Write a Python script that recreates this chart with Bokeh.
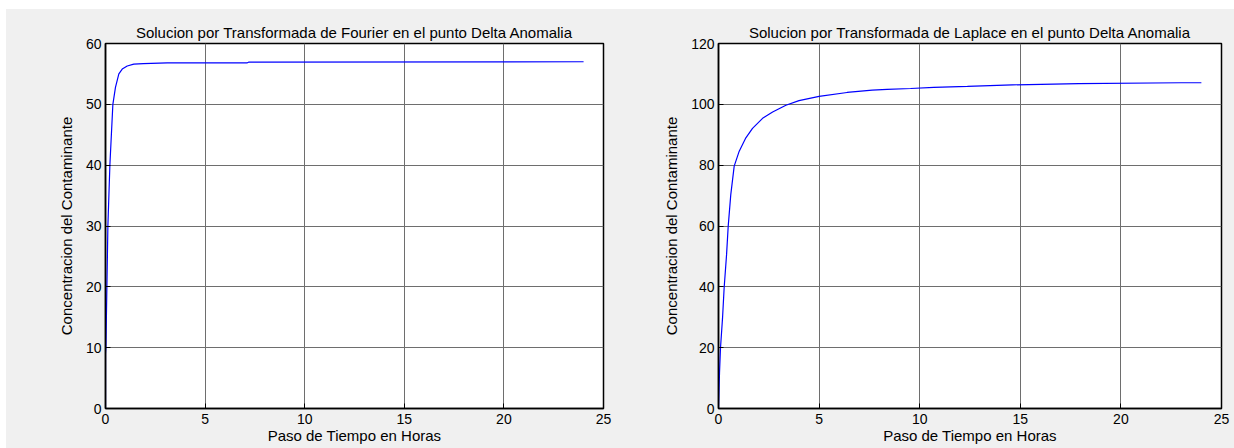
from bokeh.plotting import figure
from bokeh.layouts import row
from bokeh.models import Range1d, FixedTicker
from bokeh.embed import file_html
from bokeh.resources import INLINE

# Data
t_fourier = [0, 0, 0.02, 0.07, 0.12, 0.22, 0.37, 0.5, 0.67, 0.84, 1.09, 1.42, 1.9, 3.1, 7.1, 7.2, 24.0]
c_fourier = [0, 9, 10, 20, 30, 40, 50, 52.8, 55.0, 55.8, 56.3, 56.6, 56.7, 56.8, 56.8, 56.95, 57.0]

t_laplace = [0, 0.05, 0.1, 0.2, 0.28, 0.4, 0.48, 0.61, 0.78, 1.03, 1.36, 1.69, 2.19, 2.69,
             3.35, 4.0, 5.0, 6.39, 7.64, 8.38, 9.55, 10.7, 12.37, 14.6, 17.9, 23.0, 24.0]
c_laplace = [0, 11.7, 20, 29.7, 39.6, 50.5, 59.7, 70.3, 79.7, 84.6, 89.0, 92.1, 95.4, 97.5,
             99.7, 101.2, 102.6, 103.9, 104.7, 104.9, 105.2, 105.6, 105.9, 106.4, 106.8, 107.1, 107.1]

x_ticks = [0, 5, 10, 15, 20, 25]
y_ticks_fourier = [0, 10, 20, 30, 40, 50, 60]
y_ticks_laplace = [0, 20, 40, 60, 80, 100, 120]

title_fourier = "Solucion por Transformada de Fourier en el punto Delta Anomalia"
title_laplace = "Solucion por Transformada de Laplace en el punto Delta Anomalia"
x_label = "Paso de Tiempo en Horas"
y_label = "Concentracion del Contaminante"

FONT = "Liberation Sans"
BG = "#f0f0f0"


def make_plot(title, xs, ys, ymax, yticks, left, fw, right):
    p = figure(output_backend="svg", toolbar_location=None,
               frame_width=fw, frame_height=365,
               min_border_left=left, min_border_right=right,
               min_border_top=34, min_border_bottom=40,
               x_range=Range1d(0, 25), y_range=Range1d(0, ymax),
               title=title)
    p.border_fill_color = BG
    p.background_fill_color = "white"
    p.outline_line_color = "black"
    p.outline_line_width = 1.5
    p.outline_line_alpha = 1

    p.title.align = "center"
    p.title.text_font = FONT
    p.title.text_font_style = "normal"
    p.title.text_font_size = "15px"
    p.title.text_color = "black"
    p.title.standoff = 6

    p.xaxis.ticker = FixedTicker(ticks=x_ticks)
    p.yaxis.ticker = FixedTicker(ticks=yticks)
    for ax in (p.xaxis[0], p.yaxis[0]):
        ax.axis_line_color = "black"
        ax.axis_line_width = 1.5
        ax.major_tick_in = 5
        ax.major_tick_out = 0
        ax.minor_tick_in = 0
        ax.minor_tick_out = 0
        ax.major_tick_line_color = "black"
        ax.major_label_text_font = FONT
        ax.major_label_text_font_size = "14px"
        ax.major_label_text_color = "black"
        ax.axis_label_text_font = FONT
        ax.axis_label_text_font_size = "15px"
        ax.axis_label_text_font_style = "normal"
        ax.axis_label_text_color = "black"
    p.xaxis.axis_label = x_label
    p.yaxis.axis_label = y_label
    p.xaxis.major_label_standoff = 5
    p.xaxis.axis_label_standoff = 0
    p.yaxis.major_label_standoff = 4
    p.yaxis.axis_label_standoff = 8

    p.xgrid.ticker = FixedTicker(ticks=x_ticks)
    p.ygrid.ticker = FixedTicker(ticks=yticks)
    p.grid.grid_line_color = "#6e6e6e"
    p.grid.grid_line_width = 1
    p.grid.grid_line_alpha = 1

    p.line(xs, ys, line_color="#0000ff", line_width=1.2)
    return p


p1 = make_plot(title_fourier, t_fourier, c_fourier, 60, y_ticks_fourier, 99, 498, 9)
p2 = make_plot(title_laplace, t_laplace, c_laplace, 120, y_ticks_laplace, 106, 503, 13)

layout = row(p1, p2, margin=(9, 0, 0, 6), spacing=0, styles={"background-color": BG})

open("out.html", "w").write(file_html(layout, INLINE))
